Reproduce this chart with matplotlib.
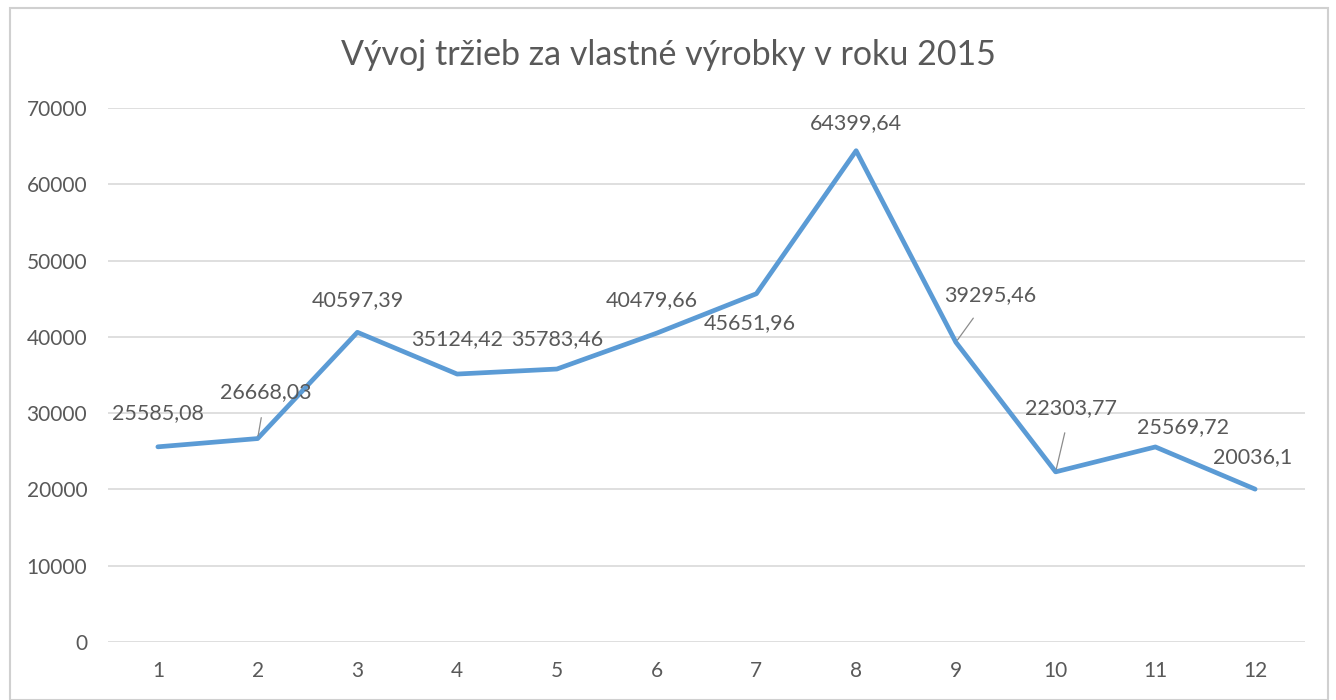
import matplotlib.pyplot as plt
from matplotlib.patches import Rectangle

months = list(range(1, 13))
revenue = [25585.08, 26668.03, 40597.39, 35124.42, 35783.46, 40479.66,
           45651.96, 64399.64, 39295.46, 22303.77, 25569.72, 20036.1]
labels = ["25585,08", "26668,03", "40597,39", "35124,42", "35783,46", "40479,66",
          "45651,96", "64399,64", "39295,46", "22303,77", "25569,72", "20036,1"]
# label offsets in pixels (dx, dy) and whether a leader line is drawn
offsets = [(0, 34), (8, 46), (0, 32), (0, 35), (0, 30), (-5, 33),
           (-7, -29), (0, 28), (34, 47), (15, 64), (28, 20), (-2, 32)]
leaders = [False, True, False, False, False, False,
           False, False, True, True, False, False]

plt.rcParams['font.family'] = ['Lato', 'DejaVu Sans']
gray = "#595959"

fig = plt.figure(figsize=(13.36, 7), dpi=100)
ax = fig.add_axes([108 / 1336, 1 - 642 / 700, (1305 - 108) / 1336, (642 - 108) / 700])

ax.plot(months, revenue, color="#5B9BD5", lw=3.4, solid_capstyle="round", zorder=3)

for x, y, txt, (dx, dy), lead in zip(months, revenue, labels, offsets, leaders):
    kw = {}
    if lead:
        kw["arrowprops"] = dict(arrowstyle="-", color="#8c8c8c", lw=0.9,
                                shrinkA=9, shrinkB=2)
    ax.annotate(txt, (x, y), xytext=(dx, dy), textcoords="offset pixels",
                ha="center", va="center", fontsize=15.5, color=gray, zorder=4, **kw)

ax.set_xlim(0.5, 12.5)
ax.set_ylim(0, 70000)
ax.set_xticks(months)
ax.set_yticks(range(0, 70001, 10000))
ax.tick_params(length=0, labelsize=15, labelcolor=gray)
ax.tick_params(axis="x", pad=14)
ax.tick_params(axis="y", pad=15)
ax.grid(axis="y", color="#D9D9D9", lw=1.2)
ax.set_axisbelow(True)
for s in ax.spines.values():
    s.set_visible(False)

fig.text(0.5, 1 - 55 / 700, "Vývoj tržieb za vlastné výrobky v roku 2015",
         ha="center", va="center", fontsize=24.5, color=gray)

fig.patches.append(Rectangle((10 / 1336, 0), 1318 / 1336, 1 - 8 / 700,
                             transform=fig.transFigure, fill=False,
                             edgecolor="#D0D0D0", lw=1.5))

fig.savefig("out.png", dpi=100)
